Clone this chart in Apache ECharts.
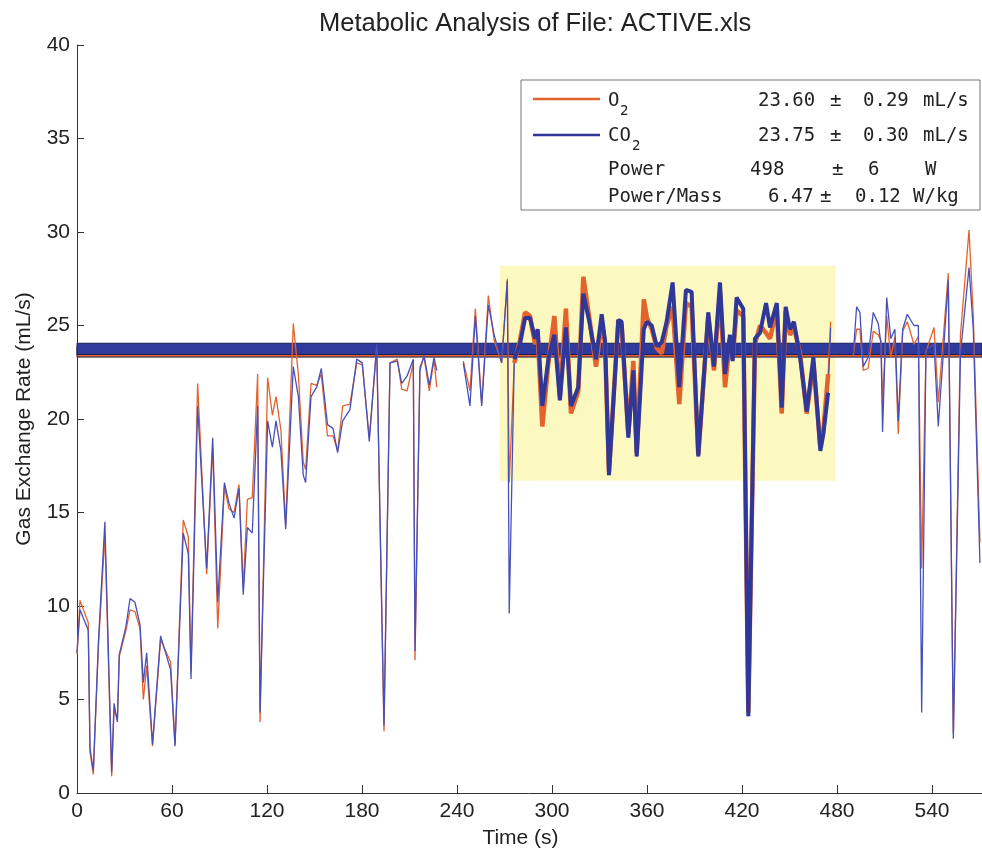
<!DOCTYPE html>
<html>
<head>
<meta charset="utf-8">
<script src="https://cdn.jsdelivr.net/npm/echarts@6/dist/echarts.min.js"></script>
<style>html,body{margin:0;padding:0;background:#fff}#chart{width:982px;height:857px}</style>
</head>
<body>
<div id="chart"></div>
<script>
// ---- data ----
const timeS = [0,1.9,7.1,8.2,10.3,13.5,17.6,21.9,23.4,25.5,26.7,30.9,33.5,36.6,39.8,41.9,44.0,47.7,52.8,59.1,
  61.9,67.1,70.3,72.0,76.2,81.9,85.7,88.9,93.1,96.0,99.2,102.3,105.0,107.6,110.7,114.1,115.6,120.4,123.4,125.7,
  128.8,131.8,136.6,139.8,142.9,144.4,147.8,151.4,154.3,158.2,161.7,164.6,167.8,172.4,176.7,180.2,184.6,189.3,193.9,197.7,
  202.3,205.1,208.5,212.4,213.5,216.6,219.2,222.5,225.5,227.2,235,
  244.0,248.2,251.6,255.6,259.8,263.5,268.2,271.8,273.0,276.2,279.8,283.0,286.1,289.3,291.0,293.9,297.7,301.5,305.0,
  308.8,312.0,316.6,319.8,323.6,327.8,331.4,333.5,336.0,341.9,344.0,348.2,351.4,353.5,358.0,360.0,363.0,366.1,369.3,
  372.4,376.2,380.4,384.6,388.2,392.4,398.7,402.3,406.1,409.3,412.4,414.1,416.6,420.8,424.0,428.2,431.4,435.2,437.7,
  442.0,445.1,447.6,450.3,452.8,456.7,460.9,465.1,469.5,471.4,474.4,476.0,483,
  490.3,492.4,494.5,496.6,499.7,502.9,506.1,507.8,508.8,511.4,514.0,516.6,518.7,521.5,524.4,528.6,531.4,533.5,536.2,
  541.3,544.0,550.3,553.5,558.0,563.4,566.1,570.3];
const co2Rate = [7.5,9.8,8.7,2.4,1.2,8.0,14.5,1.1,4.8,3.8,7.4,8.9,10.4,10.2,9.0,5.9,7.5,2.6,8.4,6.6,
  2.5,13.9,12.8,6.1,20.7,12.0,19.0,10.2,16.6,15.5,14.7,16.3,10.6,14.2,13.9,20.7,4.3,19.9,18.5,19.9,
  18.3,14.1,22.8,21.2,17.0,16.6,21.2,21.7,22.7,19.7,19.5,18.2,19.9,20.5,23.2,23.0,18.8,24.0,3.6,23.0,
  23.1,21.9,22.3,23.2,7.6,22.6,23.4,21.8,23.3,22.6,null,
  23.0,20.7,25.5,20.7,26.1,24.5,23.0,27.4,9.6,23.2,24.0,25.4,25.4,24.3,24.8,20.7,23.2,24.5,21.0,
  24.9,20.7,21.7,26.7,25.2,23.2,25.6,24.2,17.0,25.3,25.2,19.0,22.6,18.0,24.8,25.2,25.0,23.9,24.1,
  25.2,27.3,21.7,26.9,26.8,18.0,25.7,22.8,27.3,22.4,24.5,23.1,26.5,25.9,4.1,24.3,24.6,26.2,24.9,
  26.2,20.6,26.0,24.8,25.2,23.3,20.4,23.3,18.3,19.2,21.4,24.9,null,
  23.5,26.0,25.7,22.8,23.3,25.7,25.1,24.0,19.3,26.5,24.3,24.8,19.9,24.8,25.6,25.0,25.0,4.3,23.7,
  24.0,19.6,27.4,2.9,23.5,28.1,24.8,12.3];
const o2Rate = [7.4,10.3,9.1,2.2,1.0,7.8,13.8,0.9,4.5,3.9,7.3,8.7,9.8,9.7,8.8,5.0,6.8,2.5,8.2,7.0,
  2.6,14.6,13.7,6.5,21.9,11.7,18.5,8.8,16.4,15.2,15.0,16.5,11.0,15.7,15.8,22.4,3.8,22.2,20.2,21.2,
  19.4,14.3,25.1,22.4,17.7,17.3,21.9,21.8,22.4,19.1,19.1,18.3,20.7,20.8,23.0,22.9,19.0,23.8,3.3,23.0,
  23.2,21.6,21.5,23.0,7.1,22.8,23.3,21.5,23.2,21.7,null,
  23.1,21.5,25.9,20.8,26.6,24.2,23.0,27.5,16.6,23.0,24.2,25.7,25.5,24.0,24.5,19.6,23.0,25.5,21.2,
  25.9,20.3,21.5,27.6,25.4,22.8,25.2,24.0,17.2,25.3,25.0,19.2,23.1,18.2,26.4,25.4,24.8,23.8,23.5,
  25.0,26.0,20.8,26.2,26.0,18.1,25.5,22.6,26.8,21.7,24.3,23.2,25.8,25.5,4.3,24.0,25.0,24.6,24.3,
  25.9,20.3,25.8,24.5,24.9,23.5,20.3,23.0,18.5,19.4,22.4,25.2,null,
  23.4,24.8,24.8,22.6,22.7,24.7,24.5,24.2,20.8,25.5,23.3,24.4,19.2,24.7,25.2,24.0,24.4,12.0,23.6,
  24.9,20.9,27.8,3.2,24.5,30.1,25.5,13.4];
const xTicks = [0,60,120,180,240,300,360,420,480,540];
// legend statistics (mean, sd)
const o2Stats = [23.60, 0.29];
const co2Stats = [23.75, 0.30];
const powerStats = [498, 6];
const powerMassStats = [6.47, 0.12];
// analysed (active) window
const activeStart = 276, activeEnd = 475;
const highlightBox = {t0: 267, t1: 479, v0: 16.7, v1: 28.2};
const xMaxVisible = 571.6;

// ---- build ----
const pairs = (vals) => timeS.map((t, i) => [t, vals[i] == null ? '-' : vals[i]]);
const activePairs = (vals) => timeS.map((t, i) => [t, vals[i]])
  .filter(p => p[0] >= activeStart && p[0] <= activeEnd && p[1] != null);

const ORANGE = '#e4622b', BLUE_THIN = '#4650bb', BLUE = '#2f3799';
const FONT = 'Liberation Sans, Arial, sans-serif';
const MONO = 'DejaVu Sans Mono, monospace';

const chart = echarts.init(document.getElementById('chart'), null, {renderer: 'canvas'});

function band(stats, color, z) {
  return {
    type: 'line', data: [], z: z, silent: true,
    markArea: {
      silent: true,
      itemStyle: {color: color, borderColor: '#1b1f55', borderWidth: 1, opacity: 1},
      data: [[{xAxis: 0, yAxis: stats[0] - stats[1]}, {xAxis: xMaxVisible, yAxis: stats[0] + stats[1]}]]
    }
  };
}

const legendRows = [101, 136, 170, 197];
const txt = (x, y, s, size) => ({
  type: 'text', x: x, y: y, z: 100,
  style: {text: s, font: (size || 19) + 'px ' + MONO, fill: '#222', verticalAlign: 'middle'}
});

chart.setOption({
  animation: false,
  backgroundColor: '#fff',
  title: {
    text: 'Metabolic Analysis of File: ACTIVE.xls',
    left: 314, top: 6,
    textStyle: {fontFamily: FONT, fontSize: 25.5, fontWeight: 'normal', color: '#222'}
  },
  grid: {left: 77, top: 45, right: 0, height: 748},
  xAxis: {
    type: 'value', min: 0, max: xMaxVisible, interval: 60,
    name: 'Time (s)', nameLocation: 'middle', nameGap: 35,
    nameTextStyle: {fontFamily: FONT, fontSize: 21, color: '#222', padding: [0, 18, 0, 0]},
    axisLine: {lineStyle: {color: '#333', width: 1}},
    axisTick: {inside: true, length: 8, lineStyle: {color: '#333'}, customValues: xTicks},
    axisLabel: {fontFamily: FONT, fontSize: 21, color: '#222', margin: 8, customValues: xTicks},
    splitLine: {show: false}
  },
  yAxis: {
    type: 'value', min: 0, max: 40, interval: 5,
    name: 'Gas Exchange Rate (mL/s)', nameLocation: 'middle', nameGap: 42,
    nameTextStyle: {fontFamily: FONT, fontSize: 21, color: '#222'},
    axisLine: {show: true, lineStyle: {color: '#333', width: 1}},
    axisTick: {show: true, inside: true, length: 7, lineStyle: {color: '#333'}},
    axisLabel: {fontFamily: FONT, fontSize: 21, color: '#222', margin: 7},
    splitLine: {show: false}
  },
  series: [
    {
      type: 'line', data: [], z: 1, silent: true,
      markArea: {
        silent: true,
        itemStyle: {color: '#fbf8c0', opacity: 1},
        data: [[{xAxis: highlightBox.t0, yAxis: highlightBox.v0}, {xAxis: highlightBox.t1, yAxis: highlightBox.v1}]]
      }
    },
    {name: 'O₂', type: 'line', data: pairs(o2Rate), z: 2, showSymbol: false, connectNulls: false,
      lineStyle: {color: ORANGE, width: 1.3}, itemStyle: {color: ORANGE}},
    {name: 'CO₂', type: 'line', data: pairs(co2Rate), z: 2, showSymbol: false, connectNulls: false,
      lineStyle: {color: BLUE_THIN, width: 1.3}, itemStyle: {color: BLUE_THIN}},
    band(o2Stats, ORANGE, 3),
    band(co2Stats, '#2e3a9c', 3),
    {name: 'O₂ (analysed)', type: 'line', data: activePairs(o2Rate), z: 4, showSymbol: false,
      lineStyle: {color: ORANGE, width: 4.5}, itemStyle: {color: ORANGE}},
    {name: 'CO₂ (analysed)', type: 'line', data: activePairs(co2Rate), z: 4, showSymbol: false,
      lineStyle: {color: BLUE, width: 4}, itemStyle: {color: BLUE}}
  ],
  graphic: [
    {type: 'rect', z: 99, shape: {x: 521, y: 80, width: 459, height: 130},
      style: {fill: '#fff', stroke: '#777', lineWidth: 1}},
    {type: 'line', z: 100, shape: {x1: 533, y1: 99, x2: 600, y2: 99}, style: {stroke: ORANGE, lineWidth: 2.5}},
    {type: 'line', z: 100, shape: {x1: 533, y1: 135, x2: 600, y2: 135}, style: {stroke: BLUE, lineWidth: 2.5}},
    txt(608, legendRows[0], 'O'), txt(620, legendRows[0] + 10, '2', 14),
    txt(758, legendRows[0], o2Stats[0].toFixed(2)), txt(830, legendRows[0], '±'),
    txt(863, legendRows[0], o2Stats[1].toFixed(2)), txt(923, legendRows[0], 'mL/s'),
    txt(608, legendRows[1], 'CO'), txt(632, legendRows[1] + 10, '2', 14),
    txt(758, legendRows[1], co2Stats[0].toFixed(2)), txt(830, legendRows[1], '±'),
    txt(863, legendRows[1], co2Stats[1].toFixed(2)), txt(923, legendRows[1], 'mL/s'),
    txt(608, legendRows[2], 'Power'), txt(750, legendRows[2], String(powerStats[0])),
    txt(832, legendRows[2], '±'), txt(868, legendRows[2], String(powerStats[1])), txt(925, legendRows[2], 'W'),
    txt(608, legendRows[3], 'Power/Mass'), txt(768, legendRows[3], powerMassStats[0].toFixed(2)),
    txt(820, legendRows[3], '±'), txt(855, legendRows[3], powerMassStats[1].toFixed(2)), txt(913, legendRows[3], 'W/kg')
  ]
});
</script>
</body>
</html>
